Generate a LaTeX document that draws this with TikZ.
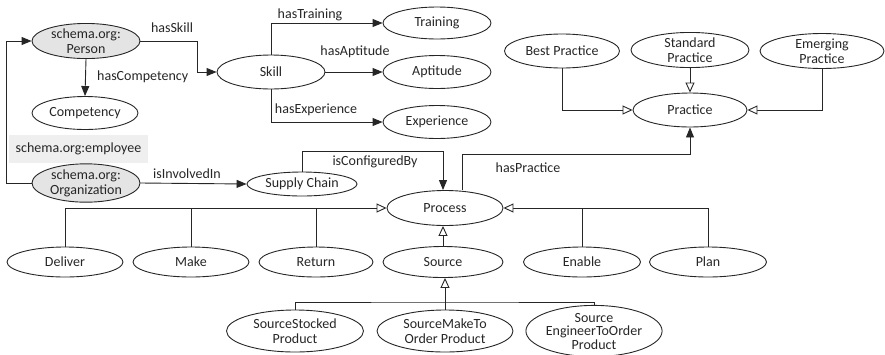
\documentclass[tikz,border=0pt]{standalone}
\usepackage{fontspec}
\setmainfont{Carlito}
\usetikzlibrary{shapes.geometric,arrows.meta,calc}
\definecolor{inkc}{HTML}{262626}
\definecolor{grayfill}{HTML}{E4E4E4}
\definecolor{labelbg}{HTML}{EFEFEF}
\begin{document}
\begin{tikzpicture}[x=1pt,y=-1pt,
  font=\fontsize{14}{15}\selectfont,
  every node/.style={text=inkc},
  cls/.style={ellipse,draw=inkc,line width=0.9pt,inner sep=0pt,align=center},
  ext/.style={cls,fill=grayfill},
  conn/.style={draw=inkc,line width=0.9pt},
  rel/.style={conn,-{Triangle[length=10pt,width=8pt]}},
  sub/.style={conn,-{Triangle[open,length=10pt,width=9pt,fill=white]}},
  lbl/.style={inner sep=0pt}
]
\useasboundingbox (0,0) rectangle (885,354);

% ---- people and skills ----
\node[ext,minimum width=108,minimum height=34] (person) at (86,41) {schema.org:\\Person};
\node[cls,minimum width=106,minimum height=33] (competency) at (85,113) {Competency};
\node[fill=labelbg,minimum width=139,minimum height=28,inner sep=0pt] (employee) at (78.5,149) {schema.org:employee};
\node[ext,minimum width=108,minimum height=36] (org) at (86,183) {schema.org:\\Organization};

\node[cls,minimum width=108,minimum height=34] (skill) at (271,72) {Skill};
\node[cls,minimum width=108,minimum height=32] (training) at (437,23) {Training};
\node[cls,minimum width=108,minimum height=33] (aptitude) at (437,72) {Aptitude};
\node[cls,minimum width=108,minimum height=33] (experience) at (437,122) {Experience};

% ---- supply chain and process ----
\node[cls,minimum width=110,minimum height=24] (supply) at (302,184) {Supply Chain};
\node[cls,minimum width=116,minimum height=35] (process) at (445,208) {Process};

% ---- practices ----
\node[cls,minimum width=114,minimum height=34] (practice) at (690,110) {Practice};
\node[cls,minimum width=115,minimum height=34] (best) at (562,51) {Best Practice};
\node[cls,minimum width=118,minimum height=34] (standard) at (690,50) {Standard\\Practice};
\node[cls,minimum width=124,minimum height=34] (emerging) at (822,51) {Emerging\\Practice};

% ---- process kinds ----
\node[cls,minimum width=116,minimum height=30] (deliver) at (65,262) {Deliver};
\node[cls,minimum width=116,minimum height=30] (make) at (191,262) {Make};
\node[cls,minimum width=114,minimum height=30] (return) at (316,262) {Return};
\node[cls,minimum width=120,minimum height=31] (source) at (443,262) {Source};
\node[cls,minimum width=117,minimum height=30] (enable) at (582,262) {Enable};
\node[cls,minimum width=117,minimum height=30] (plan) at (708,262) {Plan};

% ---- source kinds ----
\node[cls,minimum width=137,minimum height=42] (stocked) at (295,331) {SourceStocked\\Product};
\node[cls,minimum width=136,minimum height=42] (maketo) at (445,331) {SourceMakeTo\\Order Product};
\node[cls,minimum width=132,minimum height=44,font=\fontsize{14}{13.5}\selectfont] (engineer) at (594,331) {Source\\EngineerToOrder\\Product};

% ---- helper points ----
\coordinate (hpx) at ($(process.center)+(17,0)$);
\coordinate (srcbar) at (445,302);

% ---- object properties ----
\draw[rel] (org.west) -- ++(-25,0) |- (person.west);
\draw[rel] (person.east) -- ++(57,0) |- (skill.west);
\node[lbl] at (172,28) {hasSkill};
\draw[rel] (person.south) -- (competency.north);
\node[lbl,anchor=west] at (97,77) {hasCompetency};

\draw[rel] (skill.north) |- (training.west);
\node[lbl] at (310,15) {hasTraining};
\draw[rel] (skill.east) -- (aptitude.west);
\node[lbl] at (355,52) {hasAptitude};
\draw[rel] (skill.south) |- (experience.west);
\node[lbl] at (316,110) {hasExperience};

\draw[rel] (org.east) -- (supply.west);
\node[lbl] at (187,174) {isInvolvedIn};
\draw[rel] (supply.north) -- ++(0,-20) -| ($(process.north)+(-2,0)$);
\node[lbl] at (375,162) {isConfiguredBy};
\draw[rel] (process.north -| hpx) -- ++(0,-36) -| (practice.south);
\node[lbl] at (528,168) {hasPractice};

% ---- subclass links ----
\draw[sub] (best.south) |- (practice.west);
\draw[sub] (standard.south) -- (practice.north);
\draw[sub] (emerging.south) |- (practice.east);

\draw[sub] (deliver.north) |- (process.west);
\draw[conn] (make.north) -- (make.north |- process.west);
\draw[conn] (return.north) -- (return.north |- process.west);
\draw[sub] (plan.north) |- (process.east);
\draw[conn] (enable.north) -- (enable.north |- process.east);
\draw[sub] (source.north) -- (source.north |- process.south);

\draw[sub] (maketo.north) -- (maketo.north |- source.south);
\draw[conn] (stocked.north) |- (srcbar) -| (engineer.north);
\end{tikzpicture}
\end{document}
